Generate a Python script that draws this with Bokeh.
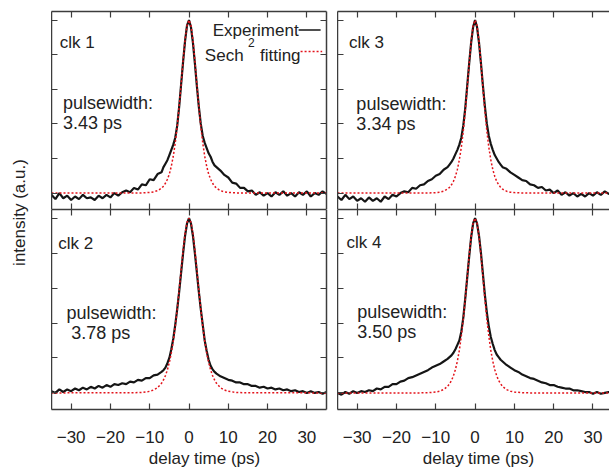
from math import pi
from bokeh.plotting import figure
from bokeh.models import Range1d, LinearAxis, FixedTicker, Label, Arrow
from bokeh.layouts import row, column
from bokeh.embed import file_html
from bokeh.resources import INLINE

FONT = "Liberation Sans"
AXC = "#3c3c3c"
TXT = "#222222"
EXP_COLOR = "#151515"
FIT_COLOR = "#e3141c"

# ---------------- data ----------------
X_TICKS = [-30, -20, -10, 0, 10, 20, 30]
Y_TICKS = [0.0, 0.2, 0.4, 0.6, 0.8, 1.0]

DELAY = [-35, -34, -33, -32, -31, -30, -29, -28, -27, -26, -25, -24, -23, -22, -21,
         -20, -19, -18, -17, -16, -15, -14, -13, -12, -11, -10, -9, -8, -7,
         -6.5, -6, -5.5, -5, -4.5, -4, -3.5, -3, -2.5, -2, -1.5, -1, -0.5, 0,
         0.5, 1, 1.5, 2, 2.5, 3, 3.5, 4, 4.5, 5, 5.5, 6, 6.5,
         7, 8, 9, 10, 11, 12, 13, 14, 15, 16, 17, 18, 19, 20, 21,
         22, 23, 24, 25, 26, 27, 28, 29, 30, 31, 32, 33, 34, 35]

EXP_CLK1 = [-0.010, -0.035, 0.000, -0.030, -0.015, -0.040, -0.020, -0.035, -0.010, -0.030, -0.025, -0.040, -0.015, -0.030, -0.010,
            -0.025, 0.000, -0.015, 0.005, 0.015, 0.005, 0.030, 0.020, 0.050, 0.045, 0.080, 0.075, 0.110, 0.120,
            0.150, 0.170, 0.190, 0.220, 0.250, 0.280, 0.320, 0.390, 0.500, 0.630, 0.760, 0.880, 0.970, 1.000,
            0.960, 0.870, 0.750, 0.620, 0.500, 0.400, 0.330, 0.290, 0.260, 0.230, 0.210, 0.180, 0.160,
            0.150, 0.130, 0.105, 0.090, 0.060, 0.055, 0.030, 0.030, 0.010, 0.015, -0.010, 0.005, -0.015, 0.000, -0.020,
            0.005, -0.010, 0.010, -0.015, 0.000, -0.020, 0.005, -0.010, 0.010, -0.020, 0.000, -0.010, 0.010, -0.005]

EXP_CLK3 = [-0.020, -0.040, -0.010, -0.035, -0.020, -0.045, -0.030, -0.050, -0.025, -0.045, -0.030, -0.050, -0.020, -0.035, -0.010,
            -0.020, 0.000, 0.010, 0.005, 0.030, 0.025, 0.045, 0.050, 0.070, 0.080, 0.100, 0.110, 0.135, 0.150,
            0.165, 0.180, 0.200, 0.225, 0.250, 0.280, 0.320, 0.390, 0.490, 0.620, 0.750, 0.870, 0.960, 1.000,
            0.960, 0.870, 0.750, 0.620, 0.500, 0.400, 0.330, 0.285, 0.250, 0.220, 0.200, 0.180, 0.165,
            0.150, 0.140, 0.120, 0.105, 0.090, 0.075, 0.070, 0.050, 0.045, 0.030, 0.035, 0.015, 0.020, 0.000, 0.015,
            -0.010, 0.005, -0.015, 0.000, -0.020, -0.005, -0.020, 0.000, -0.015, 0.005, -0.010, 0.010, -0.005, 0.005]

EXP_CLK2 = [0.010, 0.000, 0.020, 0.005, 0.020, 0.010, 0.025, 0.015, 0.030, 0.020, 0.035, 0.025, 0.040, 0.030, 0.045,
            0.035, 0.050, 0.045, 0.055, 0.050, 0.065, 0.060, 0.075, 0.070, 0.085, 0.085, 0.100, 0.105, 0.120,
            0.130, 0.145, 0.170, 0.200, 0.250, 0.310, 0.390, 0.480, 0.580, 0.690, 0.800, 0.900, 0.970, 1.000,
            0.970, 0.900, 0.800, 0.690, 0.580, 0.480, 0.390, 0.300, 0.240, 0.190, 0.155, 0.135, 0.120,
            0.110, 0.095, 0.085, 0.075, 0.070, 0.060, 0.060, 0.050, 0.050, 0.040, 0.040, 0.030, 0.035, 0.025, 0.030,
            0.020, 0.025, 0.015, 0.020, 0.010, 0.015, 0.005, 0.010, 0.000, 0.010, 0.000, 0.005, -0.005, 0.005]

EXP_CLK4 = [0.000, -0.010, 0.005, -0.005, 0.010, 0.000, 0.010, 0.005, 0.015, 0.010, 0.025, 0.020, 0.035, 0.035, 0.050,
            0.050, 0.065, 0.070, 0.085, 0.090, 0.100, 0.110, 0.120, 0.130, 0.145, 0.155, 0.165, 0.180, 0.195,
            0.205, 0.215, 0.230, 0.250, 0.275, 0.300, 0.350, 0.430, 0.540, 0.660, 0.780, 0.890, 0.970, 1.000,
            0.970, 0.900, 0.800, 0.680, 0.560, 0.460, 0.380, 0.320, 0.280, 0.245, 0.220, 0.205, 0.190,
            0.180, 0.160, 0.145, 0.130, 0.120, 0.105, 0.095, 0.085, 0.080, 0.070, 0.060, 0.055, 0.045, 0.045, 0.035,
            0.030, 0.025, 0.025, 0.015, 0.015, 0.010, 0.005, 0.005, -0.005, 0.005, -0.005, 0.000, 0.005, -0.005]

FIT_DELAY = [-35, -14, -12, -10, -9, -8, -7,
             -6.5, -6, -5.5, -5, -4.5, -4, -3.5, -3, -2.5, -2, -1.5, -1, -0.5, 0,
             0.5, 1, 1.5, 2, 2.5, 3, 3.5, 4, 4.5, 5, 5.5, 6, 6.5,
             7, 8, 9, 10, 12, 14, 35]

FIT_CLK1 = [0.0, 0.0, 0.001, 0.0035, 0.007, 0.014, 0.028,
            0.040, 0.057, 0.080, 0.110, 0.155, 0.213, 0.290, 0.385, 0.500, 0.630, 0.765, 0.885, 0.970, 1.000,
            0.970, 0.885, 0.765, 0.630, 0.500, 0.385, 0.290, 0.213, 0.155, 0.110, 0.080, 0.057, 0.040,
            0.028, 0.014, 0.007, 0.0035, 0.001, 0.0, 0.0]

FIT_CLK3 = [0.0, 0.0, 0.0006, 0.0026, 0.005, 0.011, 0.023,
            0.033, 0.048, 0.068, 0.097, 0.137, 0.192, 0.265, 0.358, 0.474, 0.608, 0.748, 0.877, 0.967, 1.000,
            0.967, 0.877, 0.748, 0.608, 0.474, 0.358, 0.265, 0.192, 0.137, 0.097, 0.068, 0.048, 0.033,
            0.023, 0.011, 0.005, 0.0026, 0.0006, 0.0, 0.0]

FIT_CLK2 = [0.0, 0.001, 0.003, 0.009, 0.017, 0.030, 0.055,
            0.074, 0.099, 0.132, 0.175, 0.229, 0.297, 0.380, 0.479, 0.589, 0.705, 0.818, 0.913, 0.977, 1.000,
            0.977, 0.913, 0.818, 0.705, 0.589, 0.479, 0.380, 0.297, 0.229, 0.175, 0.132, 0.099, 0.074,
            0.055, 0.030, 0.017, 0.009, 0.003, 0.001, 0.0]

FIT_CLK4 = [0.0, 0.0, 0.0013, 0.005, 0.010, 0.019, 0.037,
            0.052, 0.071, 0.098, 0.134, 0.182, 0.244, 0.325, 0.422, 0.536, 0.662, 0.787, 0.897, 0.973, 1.000,
            0.973, 0.897, 0.787, 0.662, 0.536, 0.422, 0.325, 0.244, 0.182, 0.134, 0.098, 0.071, 0.052,
            0.037, 0.019, 0.010, 0.005, 0.0013, 0.0, 0.0]

PANEL_NAMES = ["clk 1", "clk 3", "clk 2", "clk 4"]
PULSEWIDTHS = ["3.43 ps", "3.34 ps", "3.78 ps", "3.50 ps"]


def add_axis(p, side, ticks, labels=False):
    ax = LinearAxis(ticker=FixedTicker(ticks=ticks, minor_ticks=[]))
    ax.axis_line_color = AXC
    ax.axis_line_width = 1.5
    ax.major_tick_in = 6
    ax.major_tick_out = 0
    ax.major_tick_line_color = AXC
    ax.major_tick_line_width = 1.2
    ax.minor_tick_line_color = None
    if labels:
        ax.major_label_text_font = FONT
        ax.major_label_text_font_size = "17px"
        ax.major_label_text_color = TXT
        ax.major_label_standoff = 21
    else:
        ax.major_label_text_font_size = "0px"
        ax.major_label_text_color = None
        ax.major_label_standoff = 0
    p.add_layout(ax, side)


def make_panel(x_end, exp, fit, fw, fh, bl, br, bt, bb, right_axis, bottom_labels):
    p = figure(frame_width=fw, frame_height=fh,
               x_range=Range1d(-35, x_end), y_range=Range1d(-0.095, 1.05),
               output_backend="svg", toolbar_location=None,
               x_axis_location=None, y_axis_location=None,
               min_border_left=bl, min_border_right=br,
               min_border_top=bt, min_border_bottom=bb)
    p.outline_line_color = None
    p.grid.grid_line_color = None
    p.background_fill_color = "white"
    p.border_fill_color = "white"
    add_axis(p, "left", Y_TICKS)
    if right_axis:
        add_axis(p, "right", Y_TICKS)
    add_axis(p, "above", X_TICKS)
    add_axis(p, "below", X_TICKS, labels=bottom_labels)
    p.line(DELAY, exp, line_color=EXP_COLOR, line_width=2.2)
    p.line(FIT_DELAY, fit, line_color=FIT_COLOR, line_width=1.5, line_dash="2 2")
    return p


def txt(p, x, y, s, size="18px", align="left"):
    p.add_layout(Label(x=x, y=y, text=s, text_font=FONT, text_font_size=size,
                       text_color=TXT, text_align=align, text_baseline="alphabetic"))


# top-left (clk 1)
tl = make_panel(35, EXP_CLK1, FIT_CLK1, 275, 198, 0, 11, 11, 0, True, False)
# top-right (clk 3)
tr = make_panel(34.2, EXP_CLK3, FIT_CLK3, 272, 198, 0, 0, 11, 0, False, False)
# bottom-left (clk 2)
bl = make_panel(35, EXP_CLK2, FIT_CLK2, 275, 200, 0, 11, 0, 40, True, True)
# bottom-right (clk 4)
br = make_panel(34.2, EXP_CLK4, FIT_CLK4, 272, 200, 0, 0, 0, 40, False, True)

# panel annotations
txt(tl, -32.9, 0.873, PANEL_NAMES[0], "17px")
txt(tl, -32.1, 0.518, "pulsewidth:")
txt(tl, -32.1, 0.403, PULSEWIDTHS[0])

txt(tr, -32.1, 0.873, PANEL_NAMES[1], "17px")
txt(tr, -30.2, 0.515, "pulsewidth:")
txt(tr, -30.2, 0.400, PULSEWIDTHS[1])

txt(bl, -33.3, 0.855, PANEL_NAMES[2], "17px")
txt(bl, -31.2, 0.457, "pulsewidth:")
txt(bl, -30.0, 0.343, PULSEWIDTHS[2])

txt(br, -32.7, 0.861, PANEL_NAMES[3], "17px")
txt(br, -30.0, 0.466, "pulsewidth:")
txt(br, -30.0, 0.351, PULSEWIDTHS[3])

# legend (gnuplot style: key text then sample to its right)
txt(tl, 27.9, 0.941, "Experiment", "17px", "right")
tl.add_layout(Arrow(start=None, end=None, x_start=27.9, y_start=0.943, x_end=33.5, y_end=0.943,
                    line_color=EXP_COLOR, line_width=1.5))
txt(tl, 13.9, 0.796, "Sech", "17px", "right")
txt(tl, 15.0, 0.873, "2", "12px")
txt(tl, 28.4, 0.796, "fitting", "17px", "right")
tl.add_layout(Arrow(start=None, end=None, x_start=28.4, y_start=0.819, x_end=33.9, y_end=0.819,
                    line_color=FIT_COLOR, line_width=1.5, line_dash="2 2"))

# x-axis titles in a strip below the bottom panels
xfig = figure(width=558, height=18, x_range=Range1d(0, 558), y_range=Range1d(0, 18),
              output_backend="svg", toolbar_location=None,
              x_axis_location=None, y_axis_location=None, min_border=0)
xfig.outline_line_color = None
xfig.grid.grid_line_color = None
for xc in (153, 427):
    xfig.add_layout(Label(x=xc, y=9, text="delay time (ps)", text_font=FONT,
                          text_font_size="17px", text_color=TXT, text_align="center",
                          text_baseline="middle"))

# y-axis title in its own narrow strip
yfig = figure(width=51, height=467, x_range=Range1d(0, 51), y_range=Range1d(0, 467),
              output_backend="svg", toolbar_location=None,
              x_axis_location=None, y_axis_location=None, min_border=0)
yfig.outline_line_color = None
yfig.grid.grid_line_color = None
yfig.add_layout(Label(x=19, y=255, text="intensity (a.u.)", angle=pi / 2, text_font=FONT,
                      text_font_size="17px", text_color=TXT, text_align="center",
                      text_baseline="middle"))

layout = row(yfig, column(row(tl, tr), row(bl, br), xfig))

open("out.html", "w").write(file_html(layout, INLINE))
